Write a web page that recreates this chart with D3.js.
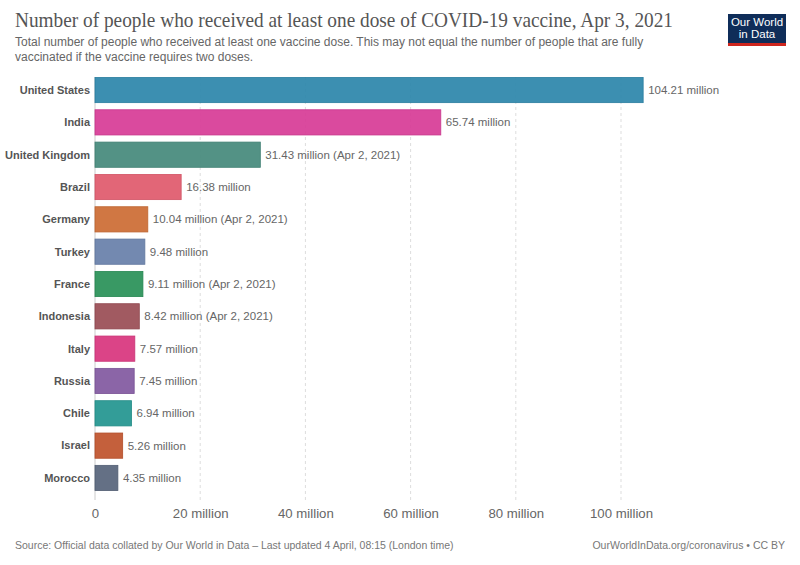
<!DOCTYPE html>
<html lang="en">
<head>
    <meta charset="UTF-8">
    <title>COVID-19 vaccine doses</title>
    <script src="https://d3js.org/d3.v7.min.js"></script>
    <style>
        body { margin: 0; background: #fff; }
        svg { display: block; }
    </style>
</head>
<body>
    <svg id="chart" width="800" height="565"></svg>
    <script>
        // data
        const countries = ["United States", "India", "United Kingdom", "Brazil", "Germany", "Turkey",
            "France", "Indonesia", "Italy", "Russia", "Chile", "Israel", "Morocco"];
        const doses = [104.21, 65.74, 31.43, 16.38, 10.04, 9.48, 9.11, 8.42, 7.57, 7.45, 6.94, 5.26, 4.35];
        const dateNotes = ["", "", "Apr 2, 2021", "", "Apr 2, 2021", "", "Apr 2, 2021", "Apr 2, 2021", "", "", "", "", ""];
        const colors = ["#2d86ab", "#d73c97", "#468a7c", "#e05a6d", "#cc6d35", "#6880aa", "#2a9158",
            "#9a4d55", "#d8367e", "#8259a0", "#239690", "#c0542d", "#58657c"];
        const xTicks = [0, 20, 40, 60, 80, 100];

        const svg = d3.select("#chart");
        const sans = "'Liberation Sans', Arial, sans-serif";

        const x = d3.scaleLinear()
            .domain([0, 100])
            .range([95, 621]);

        const y = d3.scaleBand()
            .domain(countries)
            .range([74.2, 493.8])
            .paddingInner(0.22)
            .paddingOuter(0.1);

        // title block
        svg.append("text")
            .attr("x", 15).attr("y", 27)
            .attr("font-family", "'Liberation Serif', 'DejaVu Serif', serif")
            .attr("font-size", 21)
            .attr("fill", "#555")
            .attr("textLength", 658)
            .attr("lengthAdjust", "spacingAndGlyphs")
            .text("Number of people who received at least one dose of COVID-19 vaccine, Apr 3, 2021");

        const sub = ["Total number of people who received at least one vaccine dose. This may not equal the number of people that are fully",
            "vaccinated if the vaccine requires two doses."];
        svg.append("g").selectAll("text")
            .data(sub)
            .join("text")
            .attr("x", 15)
            .attr("y", (d, i) => 46 + i * 15)
            .attr("font-family", sans)
            .attr("font-size", 12)
            .attr("fill", "#666")
            .text(d => d);

        // logo
        const logo = svg.append("g").attr("transform", "translate(728,14)");
        logo.append("rect").attr("width", 58).attr("height", 32).attr("fill", "#0f2d59");
        logo.append("rect").attr("y", 29).attr("width", 58).attr("height", 3).attr("fill", "#ce261e");
        logo.selectAll("text.l")
            .data(["Our World", "in Data"])
            .join("text")
            .attr("x", 29)
            .attr("y", (d, i) => 12 + i * 12)
            .attr("text-anchor", "middle")
            .attr("font-family", sans)
            .attr("font-size", 11.5)
            .attr("fill", "#fff")
            .text(d => d);

        // grid
        const grid = svg.append("g");
        grid.selectAll("line")
            .data(xTicks.slice(1))
            .join("line")
            .attr("x1", d => x(d)).attr("x2", d => x(d))
            .attr("y1", 77).attr("y2", 500)
            .attr("stroke", "#ddd")
            .attr("stroke-dasharray", "3,3");
        grid.append("line")
            .attr("x1", x(0)).attr("x2", x(0))
            .attr("y1", 77).attr("y2", 500)
            .attr("stroke", "#ccc");

        const rows = countries.map((c, i) => ({ c, v: doses[i], note: dateNotes[i], col: colors[i] }));

        // bars
        svg.append("g").selectAll("rect")
            .data(rows)
            .join("rect")
            .attr("x", x(0))
            .attr("y", d => y(d.c))
            .attr("width", d => x(d.v) - x(0))
            .attr("height", y.bandwidth())
            .attr("fill", d => d.col)
            .attr("fill-opacity", 0.93)
            .attr("stroke", d => d3.color(d.col).darker(0.2))
            .attr("stroke-width", 0.8);

        // country labels
        svg.append("g").selectAll("text")
            .data(rows)
            .join("text")
            .attr("x", x(0) - 5)
            .attr("y", d => y(d.c) + y.bandwidth() / 2)
            .attr("dy", "0.35em")
            .attr("text-anchor", "end")
            .attr("font-family", sans)
            .attr("font-size", 11)
            .attr("font-weight", "bold")
            .attr("fill", "#555")
            .text(d => d.c);

        // value labels
        svg.append("g").selectAll("text")
            .data(rows)
            .join("text")
            .attr("x", d => x(d.v) + 5)
            .attr("y", d => y(d.c) + y.bandwidth() / 2)
            .attr("dy", "0.35em")
            .attr("font-family", sans)
            .attr("font-size", 11.5)
            .attr("fill", "#666")
            .text(d => d.v.toFixed(2) + " million" + (d.note ? " (" + d.note + ")" : ""));

        // x axis
        const xAxis = d3.axisBottom(x)
            .tickValues(xTicks)
            .tickSize(0)
            .tickFormat(d => d === 0 ? "0" : d + " million");
        const ax = svg.append("g")
            .attr("transform", "translate(0,499)")
            .call(xAxis);
        ax.select(".domain").remove();
        ax.selectAll("text")
            .attr("dy", "1.2em")
            .attr("font-family", sans)
            .attr("font-size", 13.2)
            .attr("fill", "#666");

        // footer
        svg.append("text")
            .attr("x", 15).attr("y", 549)
            .attr("font-family", sans)
            .attr("font-size", 10.5)
            .attr("fill", "#777")
            .text("Source: Official data collated by Our World in Data – Last updated 4 April, 08:15 (London time)");
        svg.append("text")
            .attr("x", 785).attr("y", 549)
            .attr("text-anchor", "end")
            .attr("font-family", sans)
            .attr("font-size", 10.5)
            .attr("fill", "#777")
            .text("OurWorldInData.org/coronavirus • CC BY");
    </script>
</body>
</html>
